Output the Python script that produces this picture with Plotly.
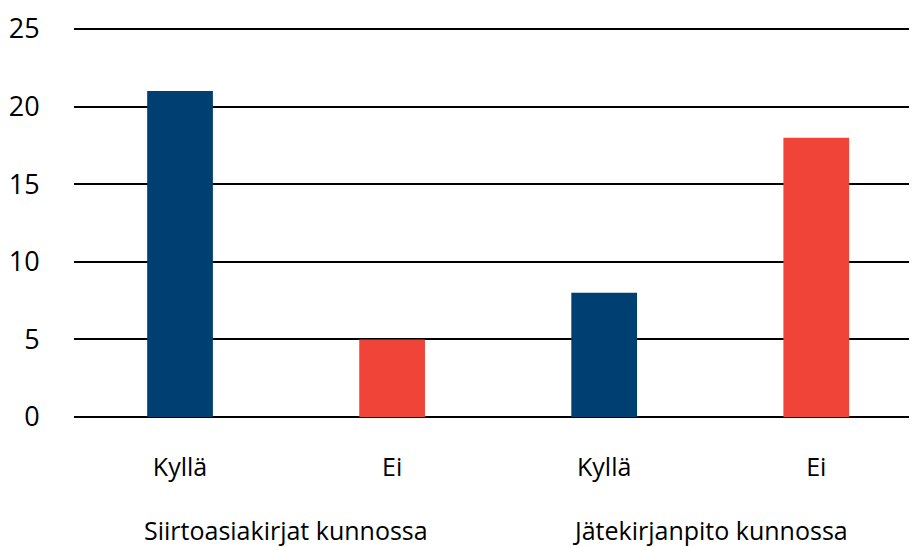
import plotly.graph_objects as go

groups = ["Siirtoasiakirjat kunnossa", "Jätekirjanpito kunnossa"]
answers = ["Kyllä", "Ei", "Kyllä", "Ei"]
values = [21, 5, 8, 18]
colors = ["#003f72", "#f04438", "#003f72", "#f04438"]
y_ticks = [0, 5, 10, 15, 20, 25]

pos = list(range(len(answers)))
fig = go.Figure(go.Bar(
    x=pos, y=values, marker_color=colors,
    marker_line_width=0, width=0.31,
))

font = "Open Sans, Noto Sans, sans-serif"
fig.update_layout(
    width=909, height=539,
    margin=dict(l=66, r=0, t=19, b=130),
    paper_bgcolor="white", plot_bgcolor="white",
    showlegend=False,
    font=dict(family=font, color="#000000", size=25),
)
for i, g in enumerate(groups):
    fig.add_annotation(
        x=2 * i + 0.5, xref="x", y=-0.29, yref="paper",
        text=g, showarrow=False, font=dict(size=25),
        xanchor="center", yanchor="middle",
    )
fig.update_xaxes(
    range=[-0.5, 3.475], tickvals=pos, ticktext=answers, automargin=False,
    showgrid=False, showline=False, zeroline=False,
    ticks="outside", ticklen=28, tickcolor="rgba(0,0,0,0)", tickfont=dict(size=25),
)
fig.update_yaxes(
    range=[0, 25.13], tickvals=y_ticks, showgrid=True, gridcolor="#000000",
    gridwidth=2, zeroline=True, zerolinecolor="#000000", zerolinewidth=2,
    showline=False, automargin=False,
    ticks="outside", ticklen=28, tickcolor="rgba(0,0,0,0)", tickfont=dict(size=27),
    layer="below traces",
)
fig.write_html("out.html")
